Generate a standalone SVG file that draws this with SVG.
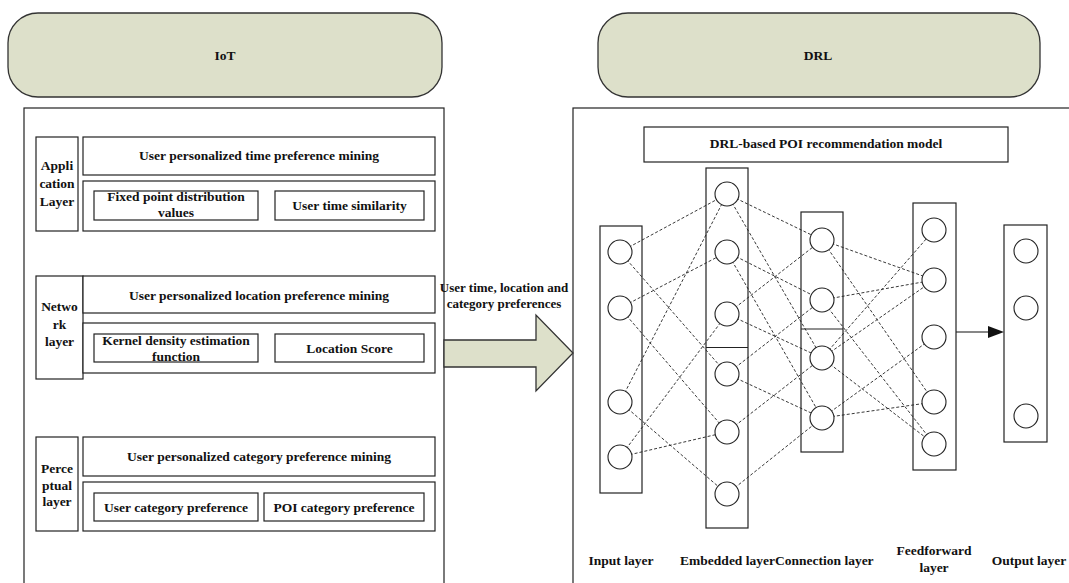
<svg xmlns="http://www.w3.org/2000/svg" width="1069" height="583" viewBox="0 0 1069 583">
<defs>
<style>
.hdr{fill:#dde0ca;stroke:#333;stroke-width:1.3}
.box{fill:#fff;stroke:#222;stroke-width:1.2}
.lay{fill:none;stroke:#222;stroke-width:1.2}
.nd{fill:#fff;stroke:#222;stroke-width:1.1}
.t{font-family:"Liberation Serif","Times New Roman",serif;font-weight:bold;font-size:13.5px;fill:#111;text-anchor:middle}
.ts{font-family:"Liberation Serif","Times New Roman",serif;font-weight:bold;font-size:13px;fill:#111;text-anchor:middle}
.dl{stroke:#222;stroke-width:0.9;stroke-dasharray:3 2;fill:none}
</style>
</defs>
<rect width="1069" height="583" fill="#fff"/>

<g id="iot-header">
<rect class="hdr" x="8" y="13" width="434" height="84" rx="30" ry="30"/>
<text class="t" x="225" y="60">IoT</text>
</g>
<g id="drl-header">
<rect class="hdr" x="598" y="13" width="442" height="84" rx="30" ry="30"/>
<text class="t" x="818" y="60">DRL</text>
</g>

<g id="iot-panel">
<rect class="box" x="24" y="108" width="420" height="490"/>
</g>
<g id="drl-panel">
<rect class="box" x="573" y="108" width="510" height="490"/>
</g>

<g id="application-layer">
<rect class="box" x="36" y="137" width="42" height="94"/>
<text class="t" x="57" y="170">Appli</text>
<text class="t" x="57" y="188">cation</text>
<text class="t" x="57" y="206">Layer</text>
<rect class="box" x="83" y="137" width="352" height="38"/>
<text class="t" x="259" y="160">User personalized time preference mining</text>
<rect class="box" x="83" y="181" width="352" height="50"/>
<rect class="box" x="94" y="191" width="164" height="29"/>
<text class="t" x="176" y="201">Fixed point distribution</text>
<text class="t" x="176" y="217">values</text>
<rect class="box" x="275" y="191" width="149" height="29"/>
<text class="t" x="349.5" y="210">User time similarity</text>
</g>

<g id="network-layer">
<rect class="box" x="36" y="276" width="47" height="103"/>
<text class="t" x="59.5" y="311">Netwo</text>
<text class="t" x="59.5" y="329">rk</text>
<text class="t" x="59.5" y="346">layer</text>
<rect class="box" x="83" y="276" width="352" height="37"/>
<text class="t" x="259" y="300">User personalized location preference mining</text>
<rect class="box" x="83" y="323" width="352" height="50"/>
<rect class="box" x="94" y="334" width="164" height="28"/>
<text class="t" x="176" y="345">Kernel density estimation</text>
<text class="t" x="176" y="361">function</text>
<rect class="box" x="275" y="334" width="149" height="28"/>
<text class="t" x="349.5" y="353">Location Score</text>
</g>

<g id="perceptual-layer">
<rect class="box" x="36" y="437" width="42" height="94"/>
<text class="t" x="57" y="473">Perce</text>
<text class="t" x="57" y="490">ptual</text>
<text class="t" x="57" y="506">layer</text>
<rect class="box" x="83" y="437" width="352" height="39"/>
<text class="t" x="259" y="461">User personalized category preference mining</text>
<rect class="box" x="83" y="482" width="352" height="49"/>
<rect class="box" x="94" y="493" width="164" height="28"/>
<text class="t" x="176" y="512">User category preference</text>
<rect class="box" x="264" y="493" width="160" height="28"/>
<text class="t" x="344" y="512">POI category preference</text>
</g>

<g id="transfer-arrow">
<polygon class="hdr" points="444,340 536,340 536,315 573,353 536,391 536,367 444,367"/>
<text class="ts" x="504" y="292">User time, location and</text>
<text class="ts" x="504" y="308">category preferences</text>
</g>

<g id="model-title">
<rect class="box" x="644" y="127" width="364" height="35"/>
<text class="t" x="826" y="148">DRL-based POI recommendation model</text>
</g>

<g id="connectors">
<line class="dl" x1="620" y1="252" x2="727" y2="194"/>
<line class="dl" x1="620" y1="252" x2="727" y2="374"/>
<line class="dl" x1="620" y1="308" x2="727" y2="252"/>
<line class="dl" x1="620" y1="308" x2="727" y2="432"/>
<line class="dl" x1="620" y1="402" x2="727" y2="194"/>
<line class="dl" x1="620" y1="402" x2="727" y2="494"/>
<line class="dl" x1="620" y1="457" x2="727" y2="314"/>
<line class="dl" x1="620" y1="457" x2="727" y2="432"/>
<line class="dl" x1="727" y1="194" x2="822" y2="240"/>
<line class="dl" x1="727" y1="194" x2="822" y2="358"/>
<line class="dl" x1="727" y1="252" x2="822" y2="300"/>
<line class="dl" x1="727" y1="252" x2="822" y2="418"/>
<line class="dl" x1="727" y1="314" x2="822" y2="240"/>
<line class="dl" x1="727" y1="314" x2="822" y2="358"/>
<line class="dl" x1="727" y1="374" x2="822" y2="300"/>
<line class="dl" x1="727" y1="374" x2="822" y2="418"/>
<line class="dl" x1="727" y1="432" x2="822" y2="358"/>
<line class="dl" x1="727" y1="494" x2="822" y2="418"/>
<line class="dl" x1="822" y1="240" x2="934" y2="280"/>
<line class="dl" x1="822" y1="240" x2="934" y2="402"/>
<line class="dl" x1="822" y1="300" x2="934" y2="280"/>
<line class="dl" x1="822" y1="300" x2="934" y2="444"/>
<line class="dl" x1="822" y1="358" x2="934" y2="230"/>
<line class="dl" x1="822" y1="358" x2="934" y2="280"/>
<line class="dl" x1="822" y1="358" x2="934" y2="444"/>
<line class="dl" x1="822" y1="418" x2="934" y2="337"/>
<line class="dl" x1="822" y1="418" x2="934" y2="402"/>
<line x1="956" y1="332" x2="989" y2="332" stroke="#111" stroke-width="1.2"/>
<polygon points="988,326 1004,332 988,338" fill="#111"/>
</g>

<g id="input-layer">
<rect class="lay" x="600" y="226" width="42" height="267"/>
<circle class="nd" cx="620" cy="252" r="12"/>
<circle class="nd" cx="620" cy="308" r="12"/>
<circle class="nd" cx="620" cy="402" r="12"/>
<circle class="nd" cx="620" cy="457" r="12"/>
<text class="t" x="621" y="565">Input layer</text>
</g>

<g id="embedded-layer">
<rect class="lay" x="706" y="168" width="42" height="360"/>
<line class="lay" x1="706" y1="347.5" x2="748" y2="347.5"/>
<circle class="nd" cx="727" cy="194" r="12"/>
<circle class="nd" cx="727" cy="252" r="12"/>
<circle class="nd" cx="727" cy="314" r="12"/>
<circle class="nd" cx="727" cy="374" r="12"/>
<circle class="nd" cx="727" cy="432" r="12"/>
<circle class="nd" cx="727" cy="494" r="12"/>
<text class="t" x="775" y="565" style="text-anchor:end">Embedded layer</text>
</g>

<g id="connection-layer">
<rect class="lay" x="801" y="212" width="42" height="240"/>
<line class="lay" x1="801" y1="329" x2="843" y2="329"/>
<circle class="nd" cx="822" cy="240" r="12"/>
<circle class="nd" cx="822" cy="300" r="12"/>
<circle class="nd" cx="822" cy="358" r="12"/>
<circle class="nd" cx="822" cy="418" r="12"/>
<text class="t" x="775" y="565" style="text-anchor:start">Connection layer</text>
</g>

<g id="feedforward-layer">
<rect class="lay" x="913" y="203" width="43" height="267"/>
<circle class="nd" cx="934" cy="230" r="12"/>
<circle class="nd" cx="934" cy="280" r="12"/>
<circle class="nd" cx="934" cy="337" r="12"/>
<circle class="nd" cx="934" cy="402" r="12"/>
<circle class="nd" cx="934" cy="444" r="12"/>
<text class="t" x="934" y="555">Feedforward</text>
<text class="t" x="934" y="572">layer</text>
</g>

<g id="output-layer">
<rect class="lay" x="1004" y="225" width="43" height="217"/>
<circle class="nd" cx="1026" cy="251" r="12"/>
<circle class="nd" cx="1026" cy="308" r="12"/>
<circle class="nd" cx="1026" cy="416" r="12"/>
<text class="t" x="1029" y="565">Output layer</text>
</g>
</svg>
